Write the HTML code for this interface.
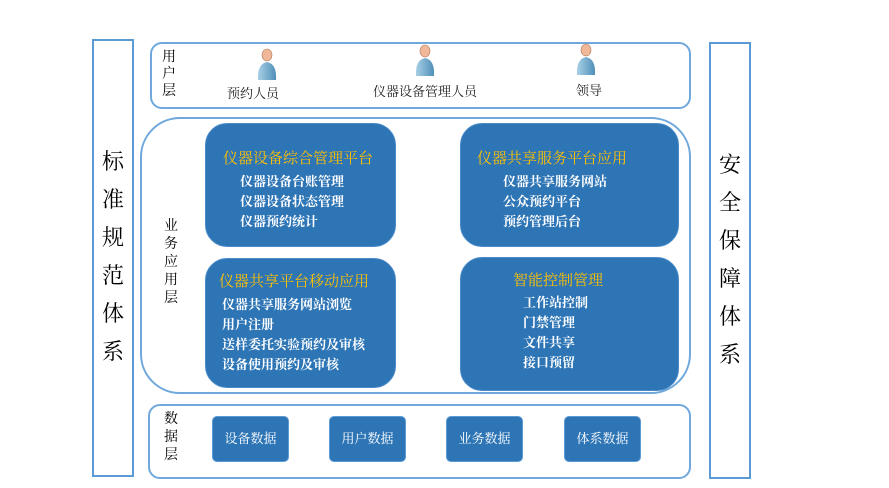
<!DOCTYPE html>
<html><head><meta charset="utf-8"><style>
body{margin:0;width:889px;height:488px;background:#fff;position:relative;overflow:hidden;font-family:"Liberation Serif","Noto Serif CJK SC",serif}
.a{position:absolute;box-sizing:border-box}
.side{border:2px solid #5b9bd5;font-size:22px;text-align:center;line-height:38px;color:#000}
.lay{border:2.5px solid #6fa8dc}
.box{background:#2e75b6;border-radius:22px;color:#fff;border:1px solid #4a8bc8}
.t{color:#ffc000;font-size:15px;position:absolute;white-space:nowrap}
.it{position:absolute;font-size:13px;line-height:20px;white-space:nowrap;font-weight:bold}
.lbl{font-size:14px;line-height:18px;color:#000;width:16px}
.db{background:#2e75b6;border-radius:5px;color:#fff;font-size:13px;text-align:center;line-height:44px;border:1px solid #5b9bd5}
.u{position:absolute;font-size:13px;color:#222;white-space:nowrap}
</style></head><body>
<div class="a side" style="left:92px;top:39px;width:42px;height:438px;padding-top:102px">标<br>准<br>规<br>范<br>体<br>系</div>
<div class="a side" style="left:709px;top:42px;width:42px;height:437px;padding-top:102px">安<br>全<br>保<br>障<br>体<br>系</div>

<div class="a lay" style="left:150px;top:42px;width:541px;height:67px;border-radius:12px"></div>
<div class="a lbl" style="left:162px;top:49px;line-height:17px">用<br>户<br>层</div>
<svg class="a" style="left:0;top:0" width="889" height="120">
<defs><linearGradient id="g" x1="0" x2="1"><stop offset="0" stop-color="#a8d0e6"/><stop offset="1" stop-color="#4f8fb8"/></linearGradient></defs>
<g id="p"><path d="M258 80 Q257 64 267 62 Q277 64 276 80 Z" fill="url(#g)"/><ellipse cx="267" cy="55" rx="5" ry="6" fill="#f0b898" stroke="#b07a5e" stroke-width=".6"/></g>
<use href="#p" x="158" y="-4"/><use href="#p" x="319" y="-5"/>
</svg>
<div class="u" style="left:227px;top:83px">预约人员</div>
<div class="u" style="left:373px;top:81px">仪器设备管理人员</div>
<div class="u" style="left:576px;top:80px">领导</div>

<div class="a lay" style="left:140px;top:117px;width:551px;height:277px;border-radius:40px"></div>
<div class="a lbl" style="left:164px;top:218px">业<br>务<br>应<br>用<br>层</div>

<div class="a box" style="left:205px;top:123px;width:191px;height:124px">
<div class="t" style="left:17px;top:23px">仪器设备综合管理平台</div>
<div class="it" style="left:34px;top:48px">仪器设备台账管理<br>仪器设备状态管理<br>仪器预约统计</div></div>
<div class="a box" style="left:460px;top:123px;width:219px;height:124px">
<div class="t" style="left:16px;top:23px">仪器共享服务平台应用</div>
<div class="it" style="left:42px;top:48px">仪器共享服务网站<br>公众预约平台<br>预约管理后台</div></div>
<div class="a box" style="left:205px;top:258px;width:191px;height:130px">
<div class="t" style="left:13px;top:11px">仪器共享平台移动应用</div>
<div class="it" style="left:16px;top:36px">仪器共享服务网站浏览<br>用户注册<br>送样委托实验预约及审核<br>设备使用预约及审核</div></div>
<div class="a box" style="left:460px;top:257px;width:219px;height:134px">
<div class="t" style="left:52px;top:11px">智能控制管理</div>
<div class="it" style="left:62px;top:35px">工作站控制<br>门禁管理<br>文件共享<br>接口预留</div></div>

<div class="a lay" style="left:148px;top:404px;width:543px;height:75px;border-radius:12px"></div>
<div class="a lbl" style="left:164px;top:411px">数<br>据<br>层</div>
<div class="a db" style="left:212px;top:416px;width:77px;height:46px">设备数据</div>
<div class="a db" style="left:329px;top:416px;width:77px;height:46px">用户数据</div>
<div class="a db" style="left:446px;top:416px;width:77px;height:46px">业务数据</div>
<div class="a db" style="left:564px;top:416px;width:77px;height:46px">体系数据</div>
</body></html>
